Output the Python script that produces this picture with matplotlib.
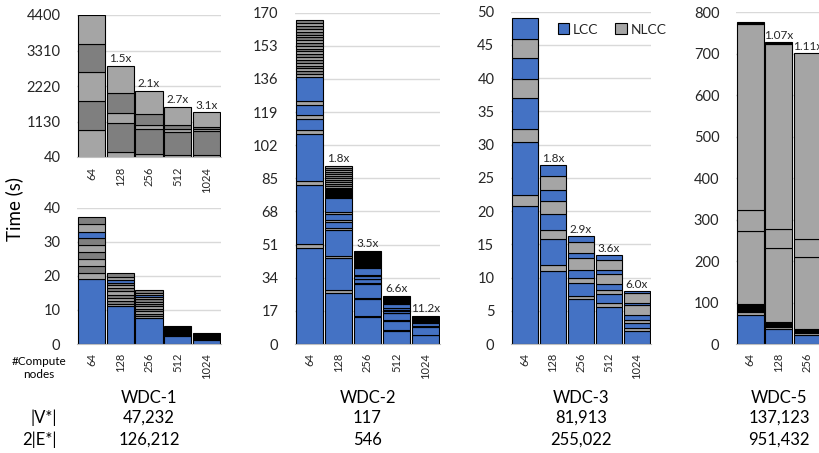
import matplotlib.pyplot as plt
from matplotlib.patches import Patch

plt.rcParams['font.family'] = ['Lato', 'DejaVu Sans']

nodes = ['64', '128', '256', '512', '1024']

# each bar = list of (seconds, kind) stacked bottom -> top
# kinds: L = LCC, N = NLCC, D = NLCC (darker shade), K = many tiny slices (shows as black)
wdc1_total = [
    [(880, 'N'), (880, 'D'), (880, 'N'), (880, 'D'), (880, 'N')],
    [(203, 'N'), (872, 'D'), (326, 'N'), (614, 'D'), (829, 'N')],
    [(133, 'N'), (758, 'D'), (123, 'N'), (337, 'D'), (725, 'N')],
    [(102, 'N'), (715, 'D'), (83, 'N'), (123, 'D'), (562, 'N')],
    [(102, 'N'), (737, 'D'), (60, 'N'), (72, 'D'), (442, 'N')],
]
wdc1_speedup = ['', '1.5x', '2.1x', '2.7x', '3.1x']

wdc1 = [
    [(19.0, 'L'), (1.9, 'N'), (2.1, 'D'), (1.9, 'N'), (2.0, 'D'), (2.1, 'N'), (2.0, 'D'),
     (1.9, 'L'), (2.3, 'N'), (2.0, 'D')],
    [(11.2, 'L'), (0.6, 'N'), (0.9, 'D'), (0.9, 'N'), (0.9, 'D'), (0.9, 'N'), (0.9, 'D'),
     (0.9, 'N'), (0.8, 'D'), (0.7, 'L'), (1.0, 'N'), (1.1, 'D')],
    [(7.5, 'L'), (0.7, 'N'), (0.7, 'D'), (0.7, 'N'), (0.7, 'D'), (0.7, 'N'), (0.7, 'D'),
     (0.7, 'N'), (0.7, 'D'), (0.6, 'N'), (0.6, 'L'), (0.6, 'N'), (0.9, 'D')],
    [(2.3, 'L'), (3.0, 'K')],
    [(1.2, 'L'), (1.9, 'K')],
]

wdc2 = [
    [(49.1, 'L'), (2.1, 'N'), (30.4, 'L'), (2.0, 'N'), (24.0, 'L'), (2.2, 'N'), (5.6, 'L'),
     (2.1, 'N'), (5.1, 'L'), (2.1, 'N'), (12.5, 'L'),
     (1.4, 'N'), (1.5, 'D'), (1.4, 'N'), (1.4, 'D'), (1.5, 'N'), (1.4, 'D'), (1.4, 'N'),
     (1.5, 'D'), (1.4, 'N'), (1.4, 'D'), (1.5, 'N'), (1.4, 'D'), (1.4, 'N'), (1.5, 'D'),
     (1.4, 'N'), (1.4, 'D'), (1.5, 'N'), (1.4, 'D'), (1.5, 'N'), (1.5, 'D')],
    [(26.3, 'L'), (1.4, 'N'), (16.3, 'L'), (1.2, 'N'), (13.3, 'L'), (1.2, 'N'), (2.9, 'L'),
     (1.0, 'N'), (2.9, 'L'), (1.1, 'N'), (7.1, 'L'), (5.3, 'K'),
     (1.0, 'N'), (1.1, 'D'), (1.0, 'N'), (1.1, 'D'), (1.0, 'N'), (1.0, 'D'), (1.1, 'N'),
     (1.0, 'D'), (1.1, 'N'), (1.0, 'D'), (1.1, 'N')],
    [(13.7, 'L'), (0.6, 'N'), (8.8, 'L'), (0.5, 'N'), (7.2, 'L'), (0.5, 'N'), (1.9, 'L'),
     (0.4, 'N'), (1.5, 'L'), (0.4, 'N'), (3.7, 'L'), (8.7, 'K')],
    [(6.8, 'L'), (0.4, 'N'), (4.6, 'L'), (0.4, 'N'), (3.5, 'L'), (0.3, 'N'), (0.9, 'L'),
     (0.3, 'N'), (1.1, 'L'), (0.3, 'N'), (1.8, 'L'), (4.4, 'K')],
    [(4.4, 'L'), (0.3, 'N'), (4.2, 'L'), (0.3, 'N'), (1.7, 'L'), (3.6, 'K')],
]
wdc2_speedup = ['', '1.8x', '3.5x', '6.6x', '11.2x']

wdc3 = [
    [(20.8, 'L'), (1.6, 'N'), (7.95, 'L'), (1.95, 'N'), (4.67, 'L'), (2.93, 'N'), (3.09, 'L'),
     (2.86, 'N'), (3.15, 'L')],
    [(11.0, 'L'), (0.9, 'N'), (3.95, 'L'), (1.25, 'N'), (2.5, 'L'), (1.9, 'N'), (1.7, 'L'),
     (2.1, 'N'), (1.6, 'L')],
    [(6.7, 'L'), (0.5, 'N'), (2.0, 'L'), (0.8, 'N'), (1.2, 'L'), (1.7, 'N'), (0.8, 'L'),
     (1.7, 'N'), (0.8, 'L')],
    [(5.6, 'L'), (0.5, 'N'), (1.4, 'L'), (0.7, 'N'), (0.9, 'L'), (1.5, 'N'), (0.6, 'L'),
     (1.5, 'N'), (0.65, 'L')],
    [(2.0, 'L'), (0.4, 'N'), (0.8, 'L'), (0.4, 'N'), (0.8, 'L'), (1.4, 'N'), (0.3, 'L'),
     (1.5, 'N'), (0.3, 'L')],
]
wdc3_speedup = ['', '1.8x', '2.9x', '3.6x', '6.0x']

wdc5_nodes = ['64', '128', '256']
wdc5 = [
    [(70, 'L'), (8, 'N'), (18, 'K'), (177, 'N'), (50, 'N'), (448, 'N'), (6, 'K')],
    [(35.4, 'L'), (6.3, 'N'), (12.1, 'K'), (177, 'N'), (46.2, 'N'), (446.5, 'N'), (4, 'K')],
    [(21.7, 'L'), (4, 'N'), (9.7, 'K'), (173.6, 'N'), (44, 'N'), (448, 'N')],
]
wdc5_speedup = ['', '1.07x', '1.11x']

names = ['WDC-1', 'WDC-2', 'WDC-3', 'WDC-5']
v_star = ['47,232', '117', '81,913', '137,123']
e_star = ['126,212', '546', '255,022', '951,432']

colors = {'L': '#4472C4', 'N': '#A5A5A5', 'D': '#7F7F7F', 'K': '#000000'}
W, H = 819, 453


def px_axes(fig, x0, x1, y0, y1):
    return fig.add_axes([x0 / W, 1 - y1 / H, (x1 - x0) / W, (y1 - y0) / H])


def draw(ax, bars, labels, ticks, speedup=None, lo=0, pad=6.5):
    for i, bar in enumerate(bars):
        bottom = 0
        for h, k in bar:
            ax.bar(i, h, bottom=bottom, width=0.95, color=colors[k],
                   edgecolor='black', linewidth=0.8, zorder=2)
            bottom += h
        if speedup and speedup[i]:
            ax.annotate(speedup[i], (i, bottom), xytext=(0, 1), textcoords='offset points',
                        ha='center', va='bottom', fontsize=8.5, color='#262626')
    ax.set_xlim(-0.5, len(labels) - 0.5)
    ax.set_ylim(lo, ticks[-1])
    ax.set_yticks(ticks)
    ax.set_xticks(range(len(labels)))
    ax.set_xticklabels(labels, rotation=90)
    ax.tick_params(axis='y', length=0, pad=12, labelsize=10.5, labelcolor='#262626')
    ax.tick_params(axis='x', length=0, pad=pad, labelsize=8, labelcolor='#262626')
    ax.yaxis.grid(True, color='#d9d9d9', linewidth=1)
    ax.set_axisbelow(True)
    for s in ['left', 'right', 'top']:
        ax.spines[s].set_visible(False)
    ax.spines['bottom'].set_color('#bfbfbf')


fig = plt.figure(figsize=(W / 100, H / 100), dpi=100)

ax1t = px_axes(fig, 77, 221, 15, 157)
draw(ax1t, wdc1_total, nodes, [40, 1130, 2220, 3310, 4400], wdc1_speedup, lo=40, pad=7)
ax1b = px_axes(fig, 77, 221, 207.5, 344)
draw(ax1b, wdc1, nodes, [0, 10, 20, 30, 40])
ax2 = px_axes(fig, 295, 440, 12.7, 344)
draw(ax2, wdc2, nodes, list(range(0, 171, 17)), wdc2_speedup)
ax3 = px_axes(fig, 511, 651, 11.7, 344)
draw(ax3, wdc3, nodes, list(range(0, 51, 5)), wdc3_speedup)
ax5 = px_axes(fig, 736, 821.5, 12.3, 344)
draw(ax5, wdc5, wdc5_nodes, list(range(0, 801, 100)), wdc5_speedup)

fig.legend(handles=[Patch(facecolor=colors['L'], edgecolor='black', linewidth=0.8, label='LCC'),
                    Patch(facecolor=colors['N'], edgecolor='black', linewidth=0.8, label='NLCC')],
           loc='center left', bbox_to_anchor=(551 / W, 1 - 29.5 / H), ncol=2, frameon=False,
           fontsize=10, borderpad=0, handlelength=0.8, handleheight=0.8, handletextpad=0.3,
           columnspacing=1.2, labelcolor='#262626')

fig.text(14 / W, 1 - 209 / H, 'Time (s)', rotation=90, ha='center', va='center', fontsize=13.5)
fig.text(39 / W, 1 - 368 / H, '#Compute\nnodes', ha='center', va='center', fontsize=8.5,
         linespacing=1.3)

centers = [149, 367.5, 581, 779]
for cx, nm, v, e in zip(centers, names, v_star, e_star):
    fig.text(cx / W, 1 - 398 / H, nm, ha='center', va='center', fontsize=12)
    fig.text(cx / W, 1 - 418 / H, v, ha='center', va='center', fontsize=12)
    fig.text(cx / W, 1 - 440 / H, e, ha='center', va='center', fontsize=12)
fig.text(57 / W, 1 - 418 / H, '|V*|', ha='right', va='center', fontsize=12)
fig.text(57 / W, 1 - 440 / H, '2|E*|', ha='right', va='center', fontsize=12)

fig.savefig('out.png', dpi=100)
